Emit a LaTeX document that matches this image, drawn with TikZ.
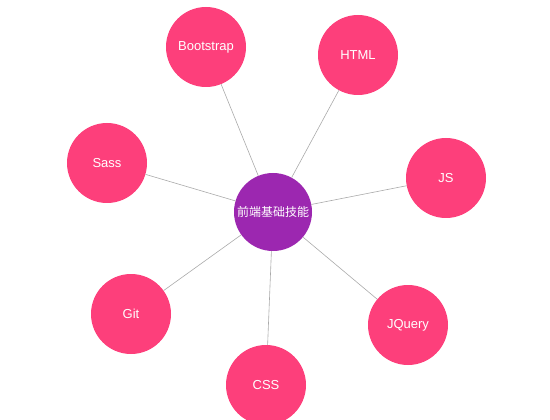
\documentclass[tikz,border=0pt]{standalone}
\usepackage{fontspec}
\setmainfont{Liberation Sans}
\newfontfamily\cjk{Noto Sans CJK SC}
\definecolor{pinkc}{HTML}{FD3F7B}
\definecolor{purplec}{HTML}{9C27B0}
\definecolor{edgec}{HTML}{AAAAAA}
\begin{document}
\begin{tikzpicture}[x=1pt,y=-1pt,
  leaf/.style={circle,fill=pinkc,minimum size=80pt,inner sep=0pt,text=white,font=\fontsize{13}{15}\selectfont},
  hub/.style={circle,fill=purplec,minimum size=78pt,inner sep=0pt,text=white,font=\cjk\fontsize{12}{14}\selectfont},
  link/.style={draw=edgec,line width=0.6pt}]
\useasboundingbox (0,0) rectangle (550,420);
\node[hub] (c) at (273,212) {前端基础技能};
\node[leaf] (boot) at (206,47) {Bootstrap};
\node[leaf] (html) at (358,55) {HTML};
\node[leaf] (sass) at (107,163) {Sass};
\node[leaf] (js) at (446,178) {JS};
\node[leaf] (git) at (131,314) {Git};
\node[leaf] (jq) at (408,325) {JQuery};
\node[leaf] (css) at (266,385) {CSS};
\foreach \n in {boot,html,sass,js,git,jq,css} \path[link] (c) -- (\n);
\end{tikzpicture}
\end{document}
